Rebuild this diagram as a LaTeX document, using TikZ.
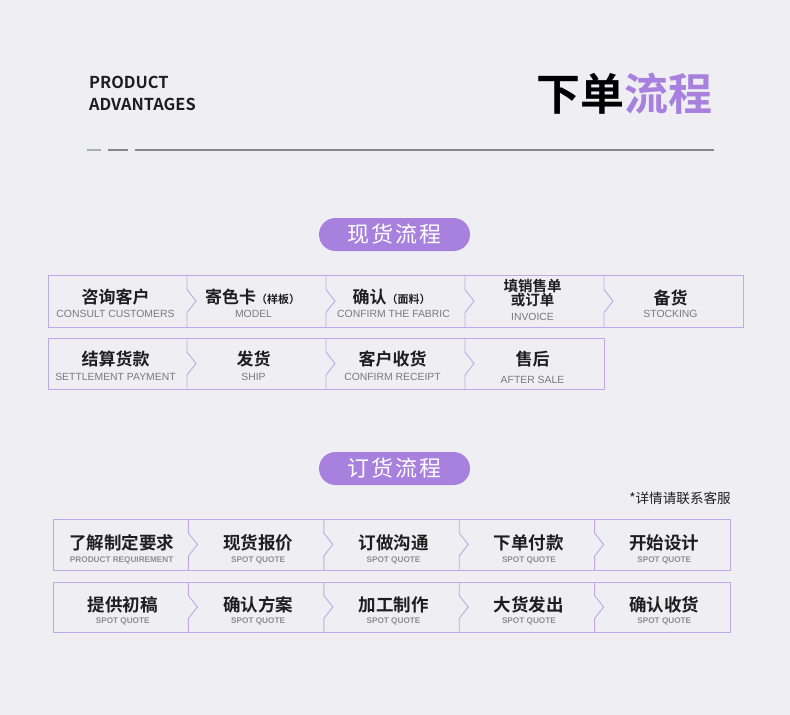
\documentclass[tikz,border=0pt]{standalone}
\usepackage{fontspec}
\setmainfont{Liberation Sans}
\newfontfamily\cjk{Noto Sans CJK SC}[BoldFont={Noto Sans CJK SC Bold}]
\newfontfamily\cjkpill{Noto Sans CJK SC}[LetterSpace=10]
\usetikzlibrary{calc}
\definecolor{bg}{HTML}{EFEEF3}
\definecolor{purp}{HTML}{A881DE}
\definecolor{bordercol}{HTML}{BBABE8}
\definecolor{zhcol}{HTML}{1E1E1E}
\definecolor{encol}{HTML}{7A7A7A}
\definecolor{encolb}{HTML}{8E8E8E}
\definecolor{rulecol}{HTML}{86868C}
\definecolor{dashcol}{HTML}{A9AFAE}
\newcommand\chevdiv[1]{\draw[brd] (#1.north east) -- ($(#1.east)+(0,-11.5)$) -- ($(#1.east)+(9,0)$) -- ($(#1.east)+(0,11.5)$) -- (#1.south east);}
\tikzset{
  cellA/.style={rectangle, inner sep=0, outer sep=0, minimum width=139, minimum height=52},
  cellB/.style={rectangle, inner sep=0, outer sep=0, minimum width=135.4, minimum height=51},
  brd/.style={draw=bordercol, line width=0.9pt},
  zhA/.style={font=\cjk\bfseries\fontsize{17}{20}\selectfont, text=zhcol, inner sep=0},
  enA/.style={font=\fontsize{10.4}{12}\selectfont, text=encol, inner sep=0},
  zhB/.style={font=\cjk\bfseries\fontsize{17.5}{20}\selectfont, text=zhcol, inner sep=0},
  enB/.style={font=\bfseries\fontsize{8.2}{10}\selectfont, text=encolb, inner sep=0},
  pill/.style={rectangle, rounded corners=16.5pt, fill=purp, minimum width=151, minimum height=33, inner sep=0, text=white, font=\cjkpill\fontsize{22}{24}\selectfont},
  hdr/.style={font=\cjk\bfseries\fontsize{16.4}{18}\selectfont, text=zhcol, inner sep=0},
}
\begin{document}
\begin{tikzpicture}[x=1pt,y=-1pt]
\fill[bg] (0,0) rectangle (790,715);
\useasboundingbox (0,0) rectangle (790,715);

% header
\node[hdr, anchor=base west] (p1) at (89,88) {PRODUCT};
\node[hdr, anchor=base west] (p2) at (89,110) {ADVANTAGES};
\node[font=\cjk\bfseries\fontsize{44}{46}\selectfont, text=black, inner sep=0] (title) at (624,94) {下单\textcolor{purp}{流程}};
\draw[dashcol, line width=2pt] (87,150) -- (101,150);
\draw[rulecol, line width=2pt] (108,150) -- (128,150);
\draw[rulecol, line width=2pt] (135,150) -- (714,150);

% section 1
\node[pill] (s1) at (394.5,234.5) {现货流程};

\node[cellA] (a1) at (117.5,301) {};
\node[cellA] (a2) at (256.5,301) {};
\node[cellA] (a3) at (395.5,301) {};
\node[cellA] (a4) at (534.5,301) {};
\node[cellA] (a5) at (673.5,301) {};
\draw[brd] (a1.north west) rectangle (a5.south east);
\chevdiv{a1}\chevdiv{a2}\chevdiv{a3}\chevdiv{a4}

\node[zhA] (a1z) at ($(a1)+(-2,-4)$) {咨询客户};
\node[enA] (a1e) at ($(a1)+(-2,13)$) {CONSULT CUSTOMERS};
\node[zhA] (a2z) at ($(a2)+(-4,-4)$) {寄色卡{\fontsize{11}{12}\selectfont （样板）}};
\node[enA] (a2e) at ($(a2)+(-3,13)$) {MODEL};
\node[zhA] (a3z) at ($(a3)+(-4,-4)$) {确认{\fontsize{11}{12}\selectfont （面料）}};
\node[enA] (a3e) at ($(a3)+(-2,13)$) {CONFIRM THE FABRIC};
\node[zhA, align=center, font=\cjk\bfseries\fontsize{14.5}{13}\selectfont] (a4z) at ($(a4)+(-2,-8)$) {填销售单\\或订单};
\node[enA] (a4e) at ($(a4)+(-2,16)$) {INVOICE};
\node[zhA] (a5z) at ($(a5)+(-3,-3)$) {备货};
\node[enA] (a5e) at ($(a5)+(-3,12.5)$) {STOCKING};

\node[cellA, minimum height=51] (b1) at (117.5,363.5) {};
\node[cellA, minimum height=51] (b2) at (256.5,363.5) {};
\node[cellA, minimum height=51] (b3) at (395.5,363.5) {};
\node[cellA, minimum height=51] (b4) at (534.5,363.5) {};
\draw[brd] (b1.north west) rectangle (b4.south east);
\chevdiv{b1}\chevdiv{b2}\chevdiv{b3}

\node[zhA] (b1z) at ($(b1)+(-2,-4.5)$) {结算货款};
\node[enA] (b1e) at ($(b1)+(-2,13.5)$) {SETTLEMENT PAYMENT};
\node[zhA] (b2z) at ($(b2)+(-3,-4.5)$) {发货};
\node[enA] (b2e) at ($(b2)+(-3,13.5)$) {SHIP};
\node[zhA] (b3z) at ($(b3)+(-3,-4.5)$) {客户收货};
\node[enA] (b3e) at ($(b3)+(-3,13.5)$) {CONFIRM RECEIPT};
\node[zhA] (b4z) at ($(b4)+(-2,-4.5)$) {售后};
\node[enA] (b4e) at ($(b4)+(-2,16.5)$) {AFTER SALE};

% section 2
\node[pill] (s2) at (394.5,468.5) {订货流程};
\node[font=\cjk\fontsize{13.6}{15}\selectfont, text=zhcol, inner sep=0, anchor=east] (note) at (731,498) {*详情请联系客服};

\node[cellB] (c1) at (120.7,544.5) {};
\node[cellB] (c2) at (256.1,544.5) {};
\node[cellB] (c3) at (391.5,544.5) {};
\node[cellB] (c4) at (526.9,544.5) {};
\node[cellB] (c5) at (662.3,544.5) {};
\draw[brd] (c1.north west) rectangle (c5.south east);
\chevdiv{c1}\chevdiv{c2}\chevdiv{c3}\chevdiv{c4}

\node[zhB] (c1z) at ($(c1)+(1,-2)$) {了解制定要求};
\node[enB] (c1e) at ($(c1)+(1,15.5)$) {PRODUCT REQUIREMENT};
\node[zhB] (c2z) at ($(c2)+(2,-2)$) {现货报价};
\node[enB] (c2e) at ($(c2)+(2,15.5)$) {SPOT QUOTE};
\node[zhB] (c3z) at ($(c3)+(2,-2)$) {订做沟通};
\node[enB] (c3e) at ($(c3)+(2,15.5)$) {SPOT QUOTE};
\node[zhB] (c4z) at ($(c4)+(2,-2)$) {下单付款};
\node[enB] (c4e) at ($(c4)+(2,15.5)$) {SPOT QUOTE};
\node[zhB] (c5z) at ($(c5)+(2,-2)$) {开始设计};
\node[enB] (c5e) at ($(c5)+(2,15.5)$) {SPOT QUOTE};

\node[cellB, minimum height=50] (d1) at (120.7,607) {};
\node[cellB, minimum height=50] (d2) at (256.1,607) {};
\node[cellB, minimum height=50] (d3) at (391.5,607) {};
\node[cellB, minimum height=50] (d4) at (526.9,607) {};
\node[cellB, minimum height=50] (d5) at (662.3,607) {};
\draw[brd] (d1.north west) rectangle (d5.south east);
\chevdiv{d1}\chevdiv{d2}\chevdiv{d3}\chevdiv{d4}

\node[zhB] (d1z) at ($(d1)+(2,-2)$) {提供初稿};
\node[enB] (d1e) at ($(d1)+(2,14)$) {SPOT QUOTE};
\node[zhB] (d2z) at ($(d2)+(2,-2)$) {确认方案};
\node[enB] (d2e) at ($(d2)+(2,14)$) {SPOT QUOTE};
\node[zhB] (d3z) at ($(d3)+(2,-2)$) {加工制作};
\node[enB] (d3e) at ($(d3)+(2,14)$) {SPOT QUOTE};
\node[zhB] (d4z) at ($(d4)+(2,-2)$) {大货发出};
\node[enB] (d4e) at ($(d4)+(2,14)$) {SPOT QUOTE};
\node[zhB] (d5z) at ($(d5)+(2,-2)$) {确认收货};
\node[enB] (d5e) at ($(d5)+(2,14)$) {SPOT QUOTE};
\end{tikzpicture}
\end{document}
